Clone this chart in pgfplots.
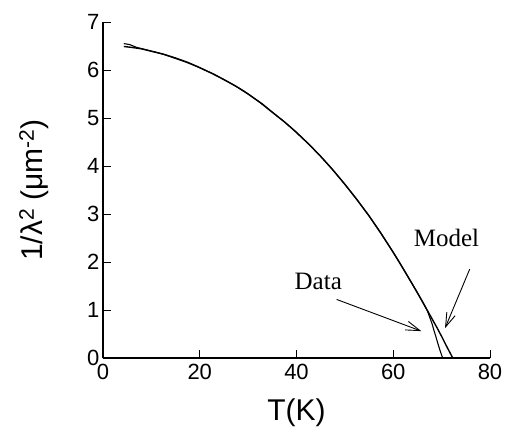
\documentclass[border=0pt]{standalone}
\usepackage{fontspec}
\setmainfont{Liberation Sans}
\newfontfamily\timesfont{Liberation Serif}
\usepackage{pgfplots}
\pgfplotsset{compat=1.18}
\usetikzlibrary{arrows.meta}
\begin{document}
\begin{tikzpicture}
\begin{axis}[
  scale only axis, width=387pt, height=336pt,
  xmin=0, xmax=80, ymin=0, ymax=7,
  axis x line*=bottom, axis y line*=left,
  axis line style={line width=1.8pt, -},
  xtick={0,20,...,80}, ytick={0,...,7},
  tick style={line width=0.8pt, black},
  tick align=inside, major tick length=8pt,
  tick label style={font=\fontsize{22}{26}\selectfont},
  xticklabel style={yshift=-3pt},
  /pgf/number format/assume math mode=true,
  xlabel={T(K)},
  ylabel={1/λ\textsuperscript{2} (μm\textsuperscript{-2})},
  label style={font=\fontsize{30}{36}\selectfont},
  xlabel style={at={(axis description cs:0.5,-0.163)}, anchor=center},
  ylabel style={at={(axis description cs:-0.178,0.5)}, anchor=center},
  clip=false,
]
% model
\addplot[black, line width=1.4pt] coordinates {
  (4.3,6.49)(6,6.47)(8,6.44)(10,6.39)(12.5,6.33)(15,6.25)(17.5,6.16)(20,6.05)
  (22.5,5.93)(25,5.80)(27.5,5.66)(30,5.50)(32.5,5.32)(35,5.12)(37.5,4.92)
  (40,4.70)(42.5,4.46)(45,4.20)(47.5,3.92)(50,3.62)(52.5,3.30)(55,2.96)
  (57.5,2.59)(60,2.20)(62,1.87)(64,1.53)(66,1.18)(67,1.00)(68,0.82)
  (69,0.64)(70,0.45)(71,0.25)(72.3,0)
};
% data
\addplot[black, line width=1.1pt] coordinates {
  (4.3,6.55)(5.5,6.53)(7,6.47)(9,6.42)(11,6.37)(13,6.31)(15,6.24)(17,6.17)
  (19,6.09)(21,6.00)(23,5.91)(25,5.80)(27,5.69)(29,5.57)(31,5.43)(33,5.29)
  (35,5.12)(37,4.96)(39,4.79)(41,4.60)(43,4.41)(45,4.20)(47,3.98)(49,3.74)
  (51,3.49)(53,3.23)(55,2.96)(57,2.67)(59,2.36)(61,2.04)(63,1.70)(65,1.36)
  (66,1.18)(66.6,1.07)(67.1,0.97)(67.5,0.86)(68,0.72)(68.4,0.58)(68.8,0.45)
  (69.2,0.31)(69.6,0.18)(70,0.06)(70.2,0)
};
\node[font=\timesfont\fontsize{25}{30}\selectfont] at (axis cs:44.5,1.6) {Data};
\node[font=\timesfont\fontsize{25}{30}\selectfont] at (axis cs:71,2.5) {Model};
\draw[line width=0.9pt, -{Straight Barb[length=14pt,width=9pt]}] (axis cs:48.3,1.22) -- (axis cs:65.8,0.56);
\draw[line width=0.9pt, -{Straight Barb[length=14pt,width=9pt]}] (axis cs:75.8,1.85) -- (axis cs:70.7,0.62);
\end{axis}
\path (current axis.south west) ++(-103pt,-76pt) rectangle ++(509pt,434pt);
\end{tikzpicture}
\end{document}
